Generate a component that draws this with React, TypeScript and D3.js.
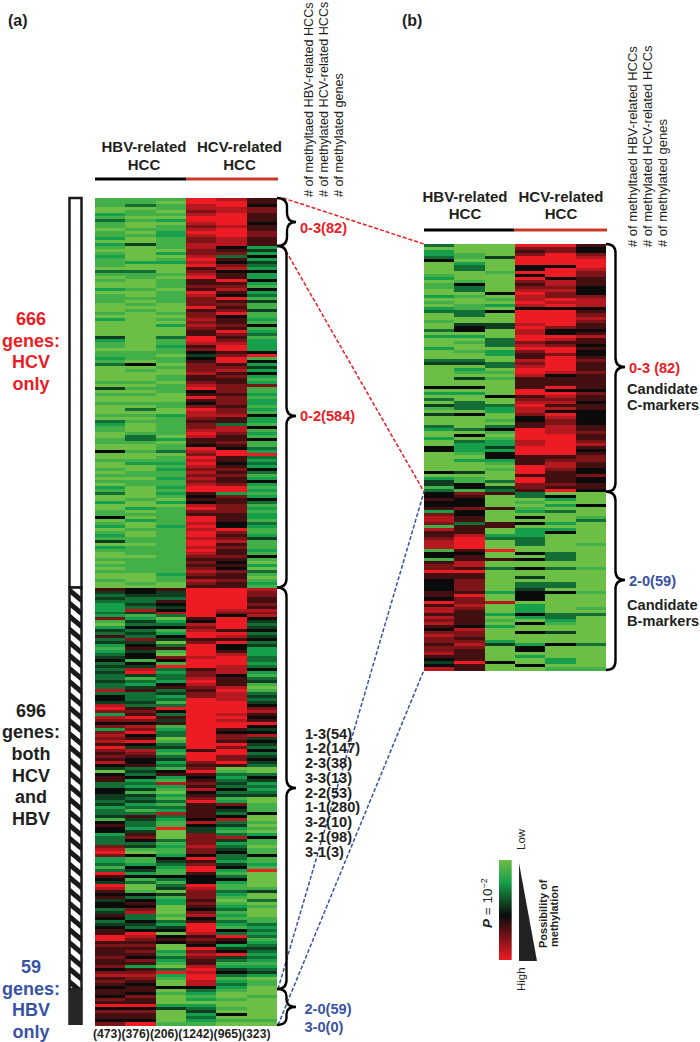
import React from 'react';
import * as d3 from 'd3';

// heat level per row, 0 = light green, 5 = black, 9 = bright red (rows read top to bottom)
const aHbv1 = [
  '1110021311011202',
  '1012111031', '0100201110', '0010200000', '4211011213', '0000010401', '0010001032', '1100110050', '0100101010', '2130020011', '5012012140', '2100101010', '0100',
  '6434322232', '7102436342', '1234534343', '3433835548', '9728757278', '7869767685', '4056633554', '4342334156', '5523337897', '2231396549', '8656455346', '5345669967', '6667667578', '6765',
  '665769576657',
].join('');
const aHbv2 = [
  '1130110100101004',
  '0000020031', '1000100101', '0100000000', '0000011105', '0100010101', '0010301010', '0013310010', '0120011011', '0000100201', '0200100110', '1110111110', '0010',
  '5543343841', '2435343745', '6455154894', '1324633343', '6769758795', '6954876556', '3435232414', '3423136433', '2467534105', '1125425130', '0153565783', '3543598767', '6765762678', '7656',
  '657669576659',
].join('');
const aHbv3 = [
  '1011010201122111',
  '1020120001', '0111011110', '0010102000', '3112110110', '1001101110', '0011002111', '1110201130', '1121211211', '2121020111', '1112111111', '1111111112', '1100',
  '6443654583', '0235125403', '6107519323', '3256342313', '9536461233', '0134213423', '1562182102', '1313283211', '9000312112', '5432115313', '4041220001', '0324505650', '0213210392', '1005',
  '010002400001',
].join('');
const aHcv1 = [
  '9988789987898778',
  '8778989678', '9667698777', '9677878766', '9986754567', '7786678956', '9657988767', '7898665987', '9898787878', '9965658976', '9989899899', '8987676787', '6876',
  '9999999999', '6587899679', '9998999677', '8987677999', '9999999999', '9999699976', '7965676856', '7966666585', '4477778775', '9679965559', '8777676578', '5699986765', '9787668989', '9885',
  '321202342321',
].join('');
const aHcv2 = [
  '8998899998999888',
  '5673657856', '6967865967', '6795667697', '6789967996', '7867667776', '7776778663', '8876676599', '6656767667', '9927667776', '6655976786', '7667656576', '6766',
  '9999999875', '9999698695', '5689998885', '6668988899', '9989899657', '7697997796', '0132343534', '1275435834', '2138423453', '3245213521', '1321012312', '1321539652', '4594312453', '1232',
  '100100105010',
].join('');
const aHcv3 = [
  '6657766656677666',
  '2425243252', '2521523141', '1411215123', '1222259152', '4252127112', '1221215221', '5121511329', '3232531252', '1212531212', '2132112411', '1215102031', '0121',
  '8776676878', '5434534534', '2223323521', '3410134345', '7865695458', '4543534543', '0035423234', '0011150010', '1025110115', '1121900000', '1400301000', '1132323123', '4323212342', '0110',
  '001000000010',
].join('');

const bHbv1 = [
  '3022350000', '1201100201', '0230010030', '2000200034', '0000000502', '0304104000', '3200200550', '000005024413',
  '5565562788', '7186678881', '5516779665', '5556659688', '6878657877', '677865458',
].join('');
const bHbv2 = [
  '0001102330', '0015330100', '1133004550', '2010010034', '0210400502', '0033305000', '0305032221', '020004011551',
  '7655575566', '3666899996', '5668869667', '7776977876', '6666587767', '876666966',
].join('');
const bHbv3 = [
  '0000400001', '0000005010', '2050004400', '0333022003', '3010100000', '5003220010', '3510122425', '521010003043',
  '6000060000', '6600230009', '0060030000', '0002008000', '2010200002', '400000500',
].join('');
const bHcv1 = [
  '9767999559', '5976789889', '8599998988', '9978976687', '8998666699', '6789887556', '6999988999', '666999699776',
  '3301012050', '5022233300', '5050050040', '3345550222', '5205005000', '255020050',
].join('');
const bHcv2 = [
  '9779999599', '9588787798', '9599999755', '9867997999', '9985666959', '8786859877', '8889999999', '678876666769',
  '0520203000', '2025000000', '3330030000', '3305000000', '3321004000', '500002201',
].join('');
const bHcv3 = [
  '6557899987', '7666555788', '8567876656', '8665655676', '6676666657', '6656655555', '6676678656', '776655755665',
  '0000500013', '0000000100', '0000010000', '0001000010', '3000000000', '300000001',
].join('');

const columnsA = [aHbv1, aHbv2, aHbv3, aHcv1, aHcv2, aHcv3];
const columnsB = [bHbv1, bHbv2, bHbv3, bHcv1, bHcv2, bHcv3];

// rows where the groups change
const splitsA = [16, 130, 264, 276];
const splitsB = [82, 141];
const sampleCounts = [473, 376, 206, 1242, 965, 323];
const groupNames = ['HBV-related', 'HCV-related'];
const pickList = ['1-3(54)', '1-2(147)', '2-3(38)', '3-3(13)', '2-2(53)', '1-1(280)', '3-2(10)', '2-1(98)', '3-1(3)'];
const headerA = ['# of methyltaed HBV-related HCCs', '# of methylated HCV-related HCCs', '# of methylated genes'];

const RED = '#ed1c24';
const BLUE = '#3953a4';
const INK = '#231f20';
const FONT = '"Liberation Sans", Arial, sans-serif';

const heat = d3.scaleLinear<string>()
  .domain([0, 2, 5, 9])
  .range(['#6cbe45', '#17a04b', '#0b0b0b', RED]);

function brace(x: number, y0: number, y1: number, ym: number, w: number, tip: number) {
  const r = Math.min(9, (y1 - y0) / 5);
  return `M${x},${y0} Q${x + w},${y0} ${x + w},${y0 + r} L${x + w},${ym - r} Q${x + w},${ym} ${x + tip},${ym}`
    + ` Q${x + w},${ym} ${x + w},${ym + r} L${x + w},${y1 - r} Q${x + w},${y1} ${x},${y1}`;
}

function Heatmap({ columns, x, y }: { columns: string[], x: d3.ScaleBand<number>, y: [number, number] }) {
  return (
    <g shapeRendering="crispEdges">
      {columns.map((col, c) => {
        const band = d3.scaleBand<number>().domain(d3.range(col.length)).range(y);
        return col.split('').map((v, i) => (
          <rect key={c + '-' + i} x={x(c)} width={x.bandwidth()} y={band(i)} height={band.bandwidth() + 0.5} fill={heat(+v)} />
        ));
      })}
    </g>
  );
}

function Header({ cx0, cx1, yName, yHcc, yLine, xs }: { cx0: number, cx1: number, yName: number, yHcc: number, yLine: number, xs: number[] }) {
  return (
    <g fontSize={15} fontWeight="bold" fill={INK} textAnchor="middle">
      <text x={cx0} y={yName}>{groupNames[0]}</text>
      <text x={cx0} y={yHcc}>HCC</text>
      <text x={cx1} y={yName}>{groupNames[1]}</text>
      <text x={cx1} y={yHcc}>HCC</text>
      <line x1={xs[0]} x2={xs[1]} y1={yLine} y2={yLine} stroke="#000" strokeWidth={3} />
      <line x1={xs[1]} x2={xs[2]} y1={yLine} y2={yLine} stroke="#c8392b" strokeWidth={3} />
    </g>
  );
}

function RotatedHeader({ xs, bottom, size }: { xs: number[], bottom: number, size: number }) {
  return (
    <g fontSize={size} fill={INK}>
      {headerA.map((t, i) => (
        <text key={t} transform={`translate(${xs[i]},${bottom}) rotate(-90)`}>{t}</text>
      ))}
    </g>
  );
}

export default function App() {
  const xA = d3.scaleBand<number>().domain(d3.range(6)).range([95, 277]);
  const xB = d3.scaleBand<number>().domain(d3.range(6)).range([424, 606]);
  const yA = d3.scaleLinear().domain([0, 276]).range([198, 1025]);
  const yB = d3.scaleLinear().domain([0, 141]).range([244, 670]);

  const legendStops = d3.range(0, 10).map(v => ({ offset: v / 9, color: heat(v) }));

  return (
    <svg width={700} height={1042} style={{ position: 'absolute', left: 0, top: 0, background: '#fff' }} fontFamily={FONT}>
      <defs>
        <pattern id="hatch" width={10} height={10} patternUnits="userSpaceOnUse" patternTransform="rotate(40)">
          <rect width={10} height={10} fill="#1a1a1a" />
          <rect width={10} height={5} fill="#fff" />
        </pattern>
        <linearGradient id="legendGrad" x1="0" x2="0" y1="0" y2="1">
          {legendStops.map(s => <stop key={s.offset} offset={s.offset} stopColor={s.color} />)}
        </linearGradient>
      </defs>

      <text x={8} y={26} fontSize={16} fontWeight="bold" fill={INK}>(a)</text>
      <text x={402} y={26} fontSize={16} fontWeight="bold" fill={INK}>(b)</text>

      <Header cx0={144} cx1={239.5} yName={152} yHcc={170} yLine={179} xs={[95, 186, 278]} />
      <Header cx0={465} cx1={561} yName={201.5} yHcc={219} yLine={230} xs={[424, 514, 607]} />
      <RotatedHeader xs={[312.5, 327.5, 343]} bottom={197} size={12.6} />
      <RotatedHeader xs={[637, 652, 667]} bottom={247} size={13} />

      {/* side bar */}
      <rect x={69.5} y={yA(0)} width={12} height={yA(130) - yA(0)} fill="#fff" stroke="#1a1a1a" strokeWidth={2.5} />
      <rect x={69.5} y={yA(130)} width={12} height={yA(264) - yA(130)} fill="url(#hatch)" stroke="#1a1a1a" strokeWidth={2.5} />
      <rect x={68.2} y={yA(264)} width={14.6} height={yA(276) - yA(264)} fill="#262626" />

      <g fontSize={18} fontWeight="bold" textAnchor="middle">
        <g fill={RED}>
          {['666', 'genes:', 'HCV', 'only'].map((t, i) => <text key={t} x={31} y={325 + i * 21.7}>{t}</text>)}
        </g>
        <g fill={INK}>
          {['696', 'genes:', 'both', 'HCV', 'and', 'HBV'].map((t, i) => <text key={t} x={31} y={716.5 + i * 21.7}>{t}</text>)}
        </g>
        <g fill={BLUE}>
          {['59', 'genes:', 'HBV', 'only'].map((t, i) => <text key={t} x={31} y={973 + i * 21.7}>{t}</text>)}
        </g>
      </g>

      <Heatmap columns={columnsA} x={xA} y={[198, 1025]} />
      <Heatmap columns={columnsB} x={xB} y={[244, 670]} />

      <text x={93} y={1038} fontSize={12.2} fontWeight="bold" fill={INK}>
        {sampleCounts.map(n => `(${n})`).join('')}
      </text>

      {/* connectors between the panels */}
      <g fill="none" strokeWidth={1.5} strokeDasharray="4 2">
        <line x1={283} y1={yA(0)} x2={424} y2={yB(0)} stroke={RED} />
        <line x1={283} y1={yA(splitsA[0])} x2={424} y2={yB(splitsB[0])} stroke={RED} />
        <line x1={278} y1={yA(splitsA[2])} x2={424} y2={yB(splitsB[0])} stroke={BLUE} />
        <line x1={278} y1={yA(splitsA[3])} x2={424} y2={yB(splitsB[1])} stroke={BLUE} />
      </g>

      {/* braces */}
      <g fill="none" stroke="#000" strokeWidth={2.4}>
        <path d={brace(277, yA(0), yA(splitsA[0]), 222, 10, 19)} />
        <path d={brace(277, yA(splitsA[0]), yA(splitsA[1]), 416, 9.5, 19)} />
        <path d={brace(277, yA(splitsA[1]), yA(splitsA[2]), 788, 9.5, 19)} />
        <path d={brace(277, yA(splitsA[2]), yA(splitsA[3]), 1007, 9.5, 19)} />
        <path d={brace(606, yB(0), yB(splitsB[0]), 367, 9.5, 19)} />
        <path d={brace(606, yB(splitsB[0]), yB(splitsB[1]), 580, 9.5, 19)} />
      </g>

      <g fontSize={14.6} fontWeight="bold">
        <text x={300} y={233} fill={RED}>0-3(82)</text>
        <text x={300} y={421} fill={RED}>0-2(584)</text>
        {pickList.map((t, i) => <text key={t} x={305} y={738.5 + i * 14.75} fill={INK}>{t}</text>)}
        <text x={304.5} y={1014} fill={BLUE}>2-0(59)</text>
        <text x={304.5} y={1032} fill={BLUE}>3-0(0)</text>
        <text x={629} y={372.5} fill={RED}>0-3 (82)</text>
        <text x={627} y={394} fill={INK}>Candidate</text>
        <text x={627} y={410} fill={INK}>C-markers</text>
        <text x={629} y={586} fill={BLUE}>2-0(59)</text>
        <text x={627} y={610} fill={INK}>Candidate</text>
        <text x={627} y={625.5} fill={INK}>B-markers</text>
      </g>

      {/* legend */}
      <rect x={499} y={860} width={12.7} height={100} fill="url(#legendGrad)" />
      <polygon points="519,863 519,961 537,961" fill="#222" />
      <g fill={INK} fontSize={11} fontWeight="bold">
        <text transform="translate(491.5,928) rotate(-90)" fontSize={13.5} fontWeight="normal">
          <tspan fontStyle="italic" fontWeight="bold">P</tspan> = 10<tspan fontSize={9} dy={-5}>−2</tspan>
        </text>
        <text transform="translate(525,850) rotate(-90)" fontWeight="normal" fontSize={11.5}>Low</text>
        <text transform="translate(525,991) rotate(-90)" fontWeight="normal" fontSize={11.5}>High</text>
        <text transform="translate(547,948) rotate(-90)">Possibility of</text>
        <text transform="translate(558,947) rotate(-90)">methylation</text>
      </g>
    </svg>
  );
}
